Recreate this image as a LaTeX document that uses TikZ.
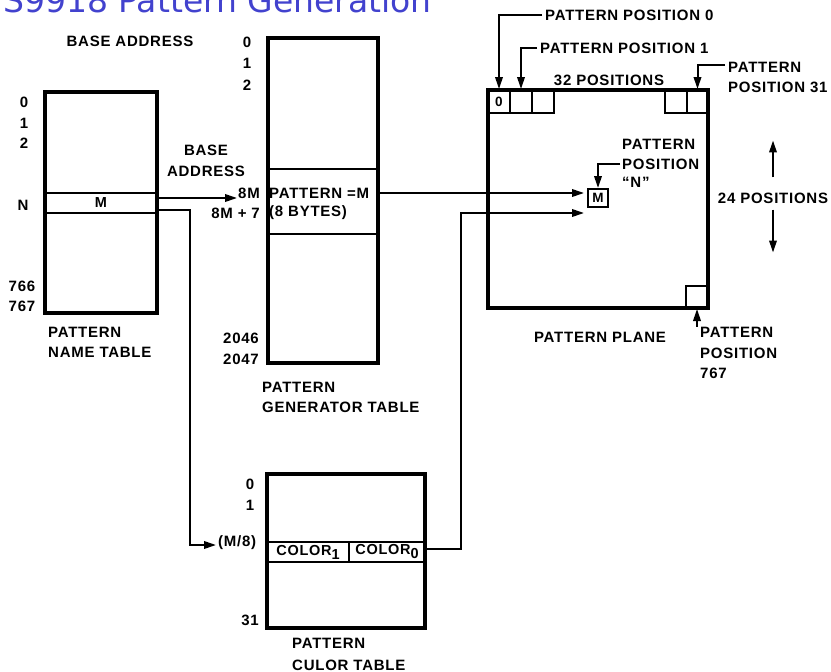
\documentclass[tikz,border=0pt]{standalone}
\usepackage{fontspec}
\setmainfont{Liberation Sans}[LetterSpace=5]
\newfontfamily\titlefont{DejaVu Sans}
\usetikzlibrary{arrows.meta}
\definecolor{titleblue}{RGB}{66,66,206}
\begin{document}
\begin{tikzpicture}[x=1pt,y=-1pt,
  tbl/.style={draw, line width=3.4pt, inner sep=0pt},
  rowbox/.style={draw, line width=2.3pt, inner sep=0pt, font=\fontsize{14.5}{16}\selectfont\bfseries},
  cellbox/.style={draw, line width=2pt, inner sep=0pt, font=\fontsize{13.5}{15}\selectfont\bfseries},
  lbl/.style={inner sep=0pt, font=\fontsize{15}{18}\selectfont\bfseries},
  conn/.style={line width=2pt},
  arr/.style={conn, -{Triangle[length=12pt,width=7.5pt]}}]
\useasboundingbox (0,0) rectangle (831,672);
\clip (0,0) rectangle (831,672);

% title
\node[font=\titlefont\fontsize{33}{33}\selectfont, text=titleblue, anchor=base east, inner sep=0pt] (title) at (432,12) {TMS9918 Pattern Generation};

% ---------------- name table
\node[lbl] (ba1) at (130,41) {BASE ADDRESS};
\node[tbl, minimum width=112pt, minimum height=221pt] (nt) at (101,202.5) {};
\node[rowbox, minimum width=112pt, minimum height=20pt] (ntrow) at (101,203) {M};
\node[lbl] (n0) at (24,102) {0};
\node[lbl] (n1) at (24,123) {1};
\node[lbl] (n2) at (24,143) {2};
\node[lbl] (nN) at (23,205) {N};
\node[lbl] (n766) at (22,286) {766};
\node[lbl] (n767) at (22,306) {767};
\node[lbl, anchor=west] (ntl1) at (48,332) {PATTERN};
\node[lbl, anchor=west] (ntl2) at (48,352) {NAME TABLE};

% ---------------- generator table
\node[lbl] (ba2a) at (206,150) {BASE};
\node[lbl] (ba2b) at (206,171) {ADDRESS};
\node[tbl, minimum width=110pt, minimum height=325pt] (gt) at (323,200.5) {};
\node[rowbox, minimum width=110pt, minimum height=65pt] (grow) at (323,201.5) {};
\node[lbl, anchor=west] (gtx1) at (269,193) {PATTERN =M};
\node[lbl, anchor=west] (gtx2) at (269,213) {(8 BYTES)};
\node[lbl] (g0) at (247,42) {0};
\node[lbl] (g1) at (247,63) {1};
\node[lbl] (g2) at (247,85) {2};
\node[lbl, anchor=east] (g8m) at (260,193) {8M};
\node[lbl, anchor=east] (g8m7) at (260,213) {8M + 7};
\node[lbl, anchor=east] (g2046) at (259,338) {2046};
\node[lbl, anchor=east] (g2047) at (259,359) {2047};
\node[lbl, anchor=west] (gtl1) at (262,387) {PATTERN};
\node[lbl, anchor=west] (gtl2) at (262,407) {GENERATOR TABLE};

% ---------------- color table
\node[tbl, minimum width=158pt, minimum height=154pt] (ct) at (346,551) {};
\node[rowbox, minimum width=82pt, minimum height=20pt] (col1) at (308,552) {COLOR\raisebox{-4pt}{1}};
\node[rowbox, minimum width=76pt, minimum height=20pt] (col0) at (387,552) {COLOR\raisebox{-4pt}{0}};
\node[lbl] (k0) at (250,484) {0};
\node[lbl] (k1) at (250,505) {1};
\node[lbl] (k31) at (250,620) {31};
\node[lbl, anchor=west] (m8) at (218,543) {(M/8)};
\node[lbl, anchor=west] (ctl1) at (292,643) {PATTERN};
\node[lbl, anchor=west] (ctl2) at (292,665) {CULOR TABLE};

% ---------------- pattern plane
\node[tbl, minimum width=220pt, minimum height=218pt] (pp) at (598,199) {};
\node[cellbox, minimum width=22pt, minimum height=23pt] (c0) at (499,101.5) {0};
\node[cellbox, minimum width=22pt, minimum height=23pt] (c1) at (521,101.5) {};
\node[cellbox, minimum width=22pt, minimum height=23pt] (c2) at (543,101.5) {};
\node[cellbox, minimum width=22pt, minimum height=23pt] (c30) at (676,101.5) {};
\node[cellbox, minimum width=21pt, minimum height=23pt] (c31) at (697.5,101.5) {};
\node[cellbox, minimum width=22pt, minimum height=22pt] (c767) at (697,297) {};
\node[cellbox, minimum width=20pt, minimum height=18pt] (mbox) at (598,198) {M};
\node[lbl] (p32) at (609,80) {32 POSITIONS};
\node[lbl] (pplane) at (600,337) {PATTERN PLANE};
\node[lbl] (p24) at (773,198) {24 POSITIONS};

\node[lbl, anchor=west] (pp0) at (545,15) {PATTERN POSITION 0};
\node[lbl, anchor=west] (pp1) at (540,48) {PATTERN POSITION 1};
\node[lbl, anchor=west] (pp31a) at (728,67) {PATTERN};
\node[lbl, anchor=west] (pp31b) at (728,87) {POSITION 31};
\node[lbl, anchor=west] (pNa) at (622,144) {PATTERN};
\node[lbl, anchor=west] (pNb) at (622,164) {POSITION};
\node[lbl, anchor=west] (pNc) at (622,182) {``N''};
\node[lbl, anchor=west] (p767a) at (700,332) {PATTERN};
\node[lbl, anchor=west] (p767b) at (700,353) {POSITION};
\node[lbl, anchor=west] (p767c) at (700,373) {767};

% ---------------- connectors
\coordinate (tip8m) at (237,198);
\coordinate (bendA) at (190,545);
\coordinate (tipM8) at (216,545);
\coordinate (tipM) at (584,193);
\coordinate (bendB) at (461,213);
\coordinate (tipC) at (584,213);

\draw[arr] ([yshift=5pt]ntrow.east) -- (tip8m);
\draw[arr] ([yshift=-7pt]ntrow.east) -| (bendA) -- (tipM8);
\draw[arr] (grow.east |- tipM) -- (tipM);
\draw[arr] ([yshift=3pt]col0.east) -| (bendB) -- (tipC);

\draw[arr] ([xshift=-3pt]pp0.west) -| (c0.north);
\draw[arr] ([xshift=-3pt]pp1.west) -| (c1.north);
\draw[arr] ([xshift=-3pt,yshift=2pt]pp31a.west) -| (c31.north);
\draw[arr] ([xshift=-2pt]pNb.west) -| (mbox.north);
\draw[arr] ([yshift=15pt]p24.north) -- ++(0,-37);
\draw[arr] ([yshift=-6pt]p24.south) -- ++(0,43);
\draw[arr] (c767.south |- p767a.north) -- (c767.south);
\end{tikzpicture}
\end{document}
